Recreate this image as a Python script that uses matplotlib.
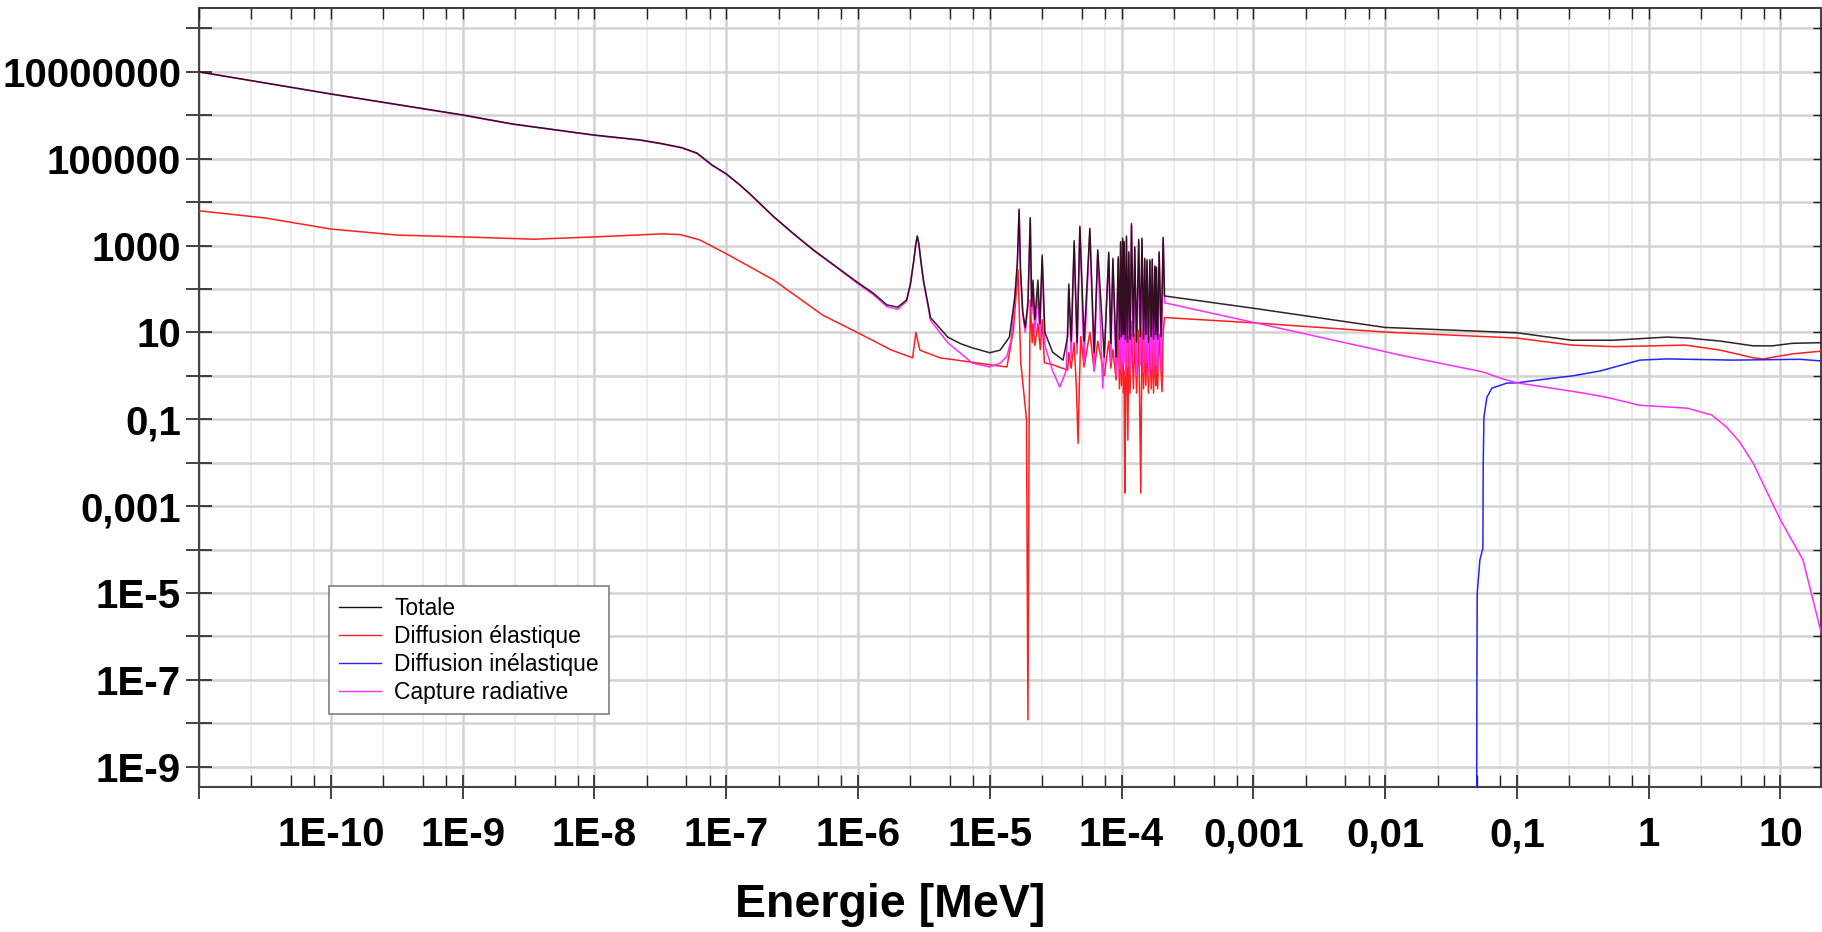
import matplotlib.pyplot as plt
from matplotlib.lines import Line2D
from matplotlib.ticker import FixedLocator, FixedFormatter, NullFormatter

# ---------------------------------------------------------------------------
# Cross sections (barn) against neutron energy (MeV)
# ---------------------------------------------------------------------------
total_e = [1e-11, 1e-10, 1e-9, 2.4e-9, 1e-8, 2.24e-8, 3.3e-8, 4.6e-8, 6.0e-8, 7.8e-8,
           1e-7, 1.27e-7, 1.5e-7, 2.3e-7, 3.2e-7, 4.6e-7, 6.9e-7, 1e-6, 1.3e-6, 1.66e-6,
           2.0e-6, 2.34e-6, 2.5e-6, 2.65e-6, 2.75e-6, 2.82e-6, 2.9e-6, 3.0e-6, 3.15e-6,
           3.4e-6, 3.55e-6, 4.8e-6, 6.0e-6, 7.4e-6, 1.0e-5, 1.2e-5, 1.41e-5, 1.55e-5,
           1.62e-5, 1.67e-5, 1.71e-5, 1.78e-5, 1.86e-5, 1.95e-5, 2.03e-5, 2.08e-5,
           2.13e-5, 2.2e-5, 2.32e-5, 2.4e-5, 2.5e-5, 2.62e-5, 3.0e-5, 3.6e-5, 3.9e-5,
           3.98e-5, 4.15e-5, 4.37e-5, 4.6e-5, 4.83e-5, 5.2e-5, 5.75e-5, 6.2e-5, 6.6e-5,
           7.4e-5, 8.0e-5, 8.3e-5, 8.6e-5, 9.1e-5, 9.44e-5, 9.65e-5, 9.84e-5, 1.0e-4,
           1.02e-4, 1.035e-4, 1.047e-4, 1.07e-4, 1.09e-4, 1.11e-4, 1.135e-4, 1.16e-4,
           1.19e-4, 1.23e-4, 1.26e-4, 1.3e-4, 1.35e-4, 1.39e-4, 1.43e-4, 1.47e-4,
           1.5e-4, 1.53e-4, 1.56e-4, 1.6e-4, 1.64e-4, 1.68e-4, 1.71e-4, 1.75e-4,
           1.79e-4, 1.82e-4, 1.84e-4, 1.88e-4, 1.93e-4, 2.0e-4, 2.07e-4, 2.12e-4, 1e-3,
           1e-2, 1.3e-2, 0.1, 0.26, 0.54, 1.38, 2.0, 3.5, 6.2, 8.7, 12.3, 20.4]
total_xs = [1.0e7, 3.1e6, 1.02e6, 6.3e5, 3.5e5, 2.7e5, 2.2e5, 1.8e5, 1.35e5, 7.2e4,
            4.5e4, 2.5e4, 1.6e4, 4.6e3, 1.95e3, 790, 320, 140, 81, 43,
            38, 56, 130, 450, 1100, 1660, 1100, 450, 150,
            45, 22, 7.8, 5.5, 4.4, 3.4, 3.9, 7.8, 66,
            400, 6900, 300, 30, 13, 50, 4400, 40,
            160, 20, 160, 16, 600, 10, 3.5, 2.3, 8,
            130, 6.3, 1290, 5.8, 2800, 6.3, 2500, 3.5, 800,
            2.7, 700, 5.6, 510, 2.7, 550, 7, 1230, 8,
            1480, 9, 1230, 7, 1660, 6, 720, 7,
            3200, 8, 930, 6, 1380, 8, 1480, 7,
            510, 9, 470, 6, 470, 8, 490, 7,
            340, 9, 320, 7, 720, 8, 1550, 69, 36,
            13, 12.6, 9.8, 6.6, 6.6, 7.8, 7.4, 6.3, 4.9, 4.9, 5.6, 5.8]

elastic_e = [1e-11, 3.2e-11, 1e-10, 3.2e-10, 1e-9, 3.5e-9, 1e-8, 3.3e-8, 4.5e-8, 6.3e-8,
             1e-7, 1.5e-7, 2.3e-7, 5.4e-7, 1e-6, 1.8e-6, 2.6e-6, 2.75e-6, 2.95e-6,
             4.2e-6, 1e-5, 1.35e-5, 1.51e-5, 1.64e-5, 1.72e-5, 1.9e-5, 1.95e-5, 1.99e-5,
             2.03e-5, 2.1e-5, 2.13e-5, 2.2e-5, 2.32e-5, 2.42e-5, 2.5e-5, 2.6e-5, 3.0e-5,
             3.9e-5, 3.98e-5, 4.15e-5, 4.37e-5, 4.55e-5, 4.68e-5, 4.78e-5, 4.9e-5,
             5.2e-5, 5.75e-5, 6.2e-5, 6.6e-5, 7.4e-5, 8.0e-5, 8.3e-5, 8.6e-5, 9.1e-5,
             9.44e-5, 9.65e-5, 9.84e-5, 1.0e-4, 1.02e-4, 1.035e-4, 1.047e-4, 1.06e-4,
             1.075e-4, 1.09e-4, 1.117e-4, 1.135e-4, 1.16e-4, 1.19e-4, 1.23e-4, 1.26e-4,
             1.3e-4, 1.35e-4, 1.4e-4, 1.43e-4, 1.47e-4, 1.5e-4, 1.53e-4, 1.56e-4, 1.6e-4,
             1.64e-4, 1.68e-4, 1.71e-4, 1.75e-4, 1.79e-4, 1.82e-4, 1.84e-4, 1.88e-4,
             1.93e-4, 2.03e-4, 2.07e-4, 2.12e-4, 1e-3, 1e-2, 1.3e-2, 0.1, 0.26, 0.54,
             1.1, 1.9, 3.5, 6.2, 7.4, 12.3, 20.4]
elastic_xs = [6300, 4300, 2400, 1740, 1580, 1400, 1580, 1860, 1780, 1350,
              650, 330, 160, 25, 9.8, 3.9, 2.6, 10, 3.9,
              2.6, 1.8, 1.6, 11, 275, 2, 0.1, 1.2e-8, 0.1,
              56, 5.8, 16, 5, 16, 4, 19.5, 2, 1.8,
              1.35, 3.4, 1.5, 5.8, 0.5, 0.028, 0.5, 8,
              1.6, 10, 1.3, 6.3, 1.0, 6.3, 1.5, 4, 0.8,
              10, 0.5, 12, 0.6, 15, 0.4, 1.3, 0.002,
              0.5, 12, 0.033, 8, 0.4, 18, 0.5, 9,
              0.4, 11, 0.002, 12, 0.5, 7, 0.6, 6, 0.4,
              8, 0.5, 7, 0.4, 6, 0.6, 5, 0.5,
              9, 0.43, 10, 22, 16.6, 10.2, 9.8, 7.4, 5.1, 4.7,
              4.9, 5.1, 3.9, 2.6, 2.45, 3.2, 3.7]

inelastic_e = [0.0495, 0.0497, 0.05, 0.0524, 0.0552, 0.0555, 0.0562, 0.0592, 0.0646,
               0.084, 0.1, 0.17, 0.266, 0.427, 0.857, 1.37, 4.4, 14.0, 20.4]
inelastic_xs = [1e-10, 1e-7, 1e-5, 5.8e-5, 1.07e-4, 8e-3, 0.11, 0.32, 0.52,
                0.68, 0.69, 0.85, 1.0, 1.29, 2.3, 2.45, 2.3, 2.4, 2.2]

capture_e = [1e-11, 1e-10, 1e-9, 2.4e-9, 1e-8, 2.24e-8, 3.3e-8, 4.6e-8, 6.0e-8, 7.8e-8,
             1e-7, 1.27e-7, 1.5e-7, 2.3e-7, 3.2e-7, 4.6e-7, 6.9e-7, 1e-6, 1.3e-6, 1.66e-6,
             2.0e-6, 2.34e-6, 2.5e-6, 2.65e-6, 2.75e-6, 2.82e-6, 2.9e-6, 3.0e-6, 3.15e-6,
             3.4e-6, 3.55e-6, 4.8e-6, 7.4e-6, 1.0e-5, 1.2e-5, 1.35e-5, 1.45e-5, 1.55e-5,
             1.62e-5, 1.67e-5, 1.71e-5, 1.78e-5, 1.86e-5, 1.95e-5, 2.03e-5, 2.08e-5,
             2.13e-5, 2.2e-5, 2.32e-5, 2.4e-5, 2.5e-5, 2.62e-5, 3.0e-5, 3.4e-5, 3.8e-5,
             3.98e-5, 4.15e-5, 4.37e-5, 4.6e-5, 4.83e-5, 5.2e-5, 5.75e-5, 6.2e-5, 6.6e-5,
             7.2e-5, 8.0e-5, 8.3e-5, 8.6e-5, 9.1e-5, 9.44e-5, 9.65e-5, 9.84e-5, 1.0e-4,
             1.02e-4, 1.035e-4, 1.047e-4, 1.07e-4, 1.09e-4, 1.11e-4, 1.135e-4, 1.16e-4,
             1.19e-4, 1.23e-4, 1.26e-4, 1.3e-4, 1.35e-4, 1.39e-4, 1.43e-4, 1.47e-4,
             1.5e-4, 1.53e-4, 1.56e-4, 1.6e-4, 1.64e-4, 1.68e-4, 1.71e-4, 1.75e-4,
             1.79e-4, 1.82e-4, 1.84e-4, 1.88e-4, 1.93e-4, 2.0e-4, 2.07e-4, 2.12e-4, 1e-3,
             1e-2, 1.3e-2, 5.5e-2, 7.8e-2, 0.1, 0.32, 0.48, 0.85, 1.95, 3.0, 3.9, 4.9,
             6.2, 10.0, 14.8, 20.4]
capture_xs = [9.9e6, 3.07e6, 1.0e6, 6.2e5, 3.45e5, 2.65e5, 2.17e5, 1.77e5, 1.32e5, 7.0e4,
              4.4e4, 2.45e4, 1.55e4, 4.5e3, 1.9e3, 770, 310, 132, 75, 39,
              34, 52, 125, 430, 1050, 1600, 1050, 430, 140,
              40, 19, 5.8, 1.95, 1.6, 1.95, 2.8, 6.6, 55,
              380, 6300, 280, 25, 10, 40, 4000, 25,
              80, 10, 80, 8, 500, 5, 1.3, 0.55, 1.3,
              100, 2.5, 1100, 3.2, 2500, 2, 2200, 1.3, 700,
              0.52, 630, 2, 450, 1, 480, 1.5, 1100, 1.2,
              1300, 2, 1100, 1, 1500, 1.6, 650, 1.1,
              2900, 2.2, 830, 1.0, 1250, 1.8, 1330, 1.2,
              460, 2, 420, 1.0, 420, 1.5, 440, 1.1,
              300, 1.8, 290, 1.2, 650, 1.3, 1400, 48, 17,
              3.6, 3.0, 1.23, 0.85, 0.69, 0.40, 0.32, 0.21, 0.18, 0.126, 0.066, 0.030,
              0.0098, 4.8e-4, 5.8e-5, 1.2e-6]

# axis ticks
x_major = [1e-11, 1e-10, 1e-9, 1e-8, 1e-7, 1e-6, 1e-5, 1e-4, 1e-3, 1e-2, 0.1, 1, 10]
x_labels = ["", "1E-10", "1E-9", "1E-8", "1E-7", "1E-6", "1E-5", "1E-4",
            "0,001", "0,01", "0,1", "1", "10"]
x_minor = [m * 10.0 ** k for k in range(-11, 2) for m in (2.5, 5.0, 7.5)]
y_major = [1e-9, 1e-8, 1e-7, 1e-6, 1e-5, 1e-4, 1e-3, 1e-2, 0.1, 1, 10, 100, 1e3,
           1e4, 1e5, 1e6, 1e7, 1e8]
y_labels = ["1E-9", "", "1E-7", "", "1E-5", "", "0,001", "", "0,1", "", "10", "",
            "1000", "", "100000", "", "10000000", ""]

series_names = ["Totale", "Diffusion élastique", "Diffusion inélastique", "Capture radiative"]
series_colors = ["#1e0a0a", "#ff1f1f", "#2424ff", "#ff2cff"]

W, H = 1822, 932
X0, X1, Y0, Y1 = 199, 1821, 8, 787  # axes box in pixels

fig = plt.figure(figsize=(W / 100, H / 100), dpi=100)
ax = fig.add_axes([X0 / W, 1 - Y1 / H, (X1 - X0) / W, (Y1 - Y0) / H])
ax.set_xscale("log")
ax.set_yscale("log")
ax.set_xlim(1e-11, 20.3)
ax.set_ylim(3.4e-10, 2.95e8)

lw = 1.1
ax.plot(elastic_e, elastic_xs, color=series_colors[1], lw=lw, zorder=3)
ax.plot(inelastic_e, inelastic_xs, color=series_colors[2], lw=lw, zorder=3)
ax.plot(capture_e, capture_xs, color=series_colors[3], lw=lw, zorder=4)
ax.plot(total_e, total_xs, color=series_colors[0], lw=lw, alpha=0.9, zorder=5)

tick_font = dict(family="Liberation Sans", weight="bold", size=29)

ax.xaxis.set_major_locator(FixedLocator(x_major))
ax.xaxis.set_major_formatter(FixedFormatter(x_labels))
ax.xaxis.set_minor_locator(FixedLocator(x_minor))
ax.xaxis.set_minor_formatter(NullFormatter())
ax.yaxis.set_major_locator(FixedLocator(y_major))
ax.yaxis.set_major_formatter(FixedFormatter(y_labels))
ax.yaxis.set_minor_locator(FixedLocator([]))
for lab in ax.get_xticklabels() + ax.get_yticklabels():
    lab.set_fontproperties(tick_font)

ax.grid(which="major", axis="both", color="#d3d3d3", lw=1.8)
ax.grid(which="minor", axis="x", color="#ededed", lw=1.5)
ax.set_axisbelow(True)

ax.tick_params(axis="x", which="major", direction="inout", length=17, width=1.2,
               color="#222222", pad=12.5, top=False)
ax.tick_params(axis="x", which="minor", direction="in", length=8.5, width=1.0,
               color="#222222", top=False)
ax.tick_params(axis="y", which="major", direction="inout", length=18.7, width=1.2,
               color="#222222", pad=3.6, right=False)
for s in ax.spines.values():
    s.set_color("#444444")
    s.set_linewidth(1.5)

# ticks on the top and right edges point inwards only
ax_top = ax.twiny()
ax_top.set_xscale("log")
ax_top.set_xlim(ax.get_xlim())
ax_top.xaxis.set_major_locator(FixedLocator(x_major))
ax_top.xaxis.set_minor_locator(FixedLocator(x_minor))
ax_top.xaxis.set_major_formatter(NullFormatter())
ax_top.xaxis.set_minor_formatter(NullFormatter())
ax_top.tick_params(axis="x", which="both", direction="in", length=8, width=1.0, color="#222222")
ax_right = ax.twinx()
ax_right.set_yscale("log")
ax_right.set_ylim(ax.get_ylim())
ax_right.yaxis.set_major_locator(FixedLocator(y_major))
ax_right.yaxis.set_minor_locator(FixedLocator([]))
ax_right.yaxis.set_major_formatter(NullFormatter())
ax_right.tick_params(axis="y", which="major", direction="in", length=6, width=1.0, color="#222222")
for a in (ax_top, ax_right):
    for s in a.spines.values():
        s.set_visible(False)

handles = [Line2D([], [], color=c, lw=1.0) for c in series_colors]
leg = ax.legend(handles, series_names, loc="lower left", bbox_to_anchor=(0.080, 0.0937),
                borderaxespad=0, fancybox=False, framealpha=1, edgecolor="#808080",
                prop=dict(family="Liberation Sans", size=16.5), handlelength=1.85,
                handletextpad=0.55, borderpad=0.45, labelspacing=0.22)
leg.get_frame().set_linewidth(1.2)
leg.set_zorder(10)

fig.text(890 / W, 1 - 917 / H, "Energie [MeV]", ha="center", va="baseline",
         family="Liberation Sans", weight="bold", size=33.5)

fig.savefig("out.png", dpi=100)
